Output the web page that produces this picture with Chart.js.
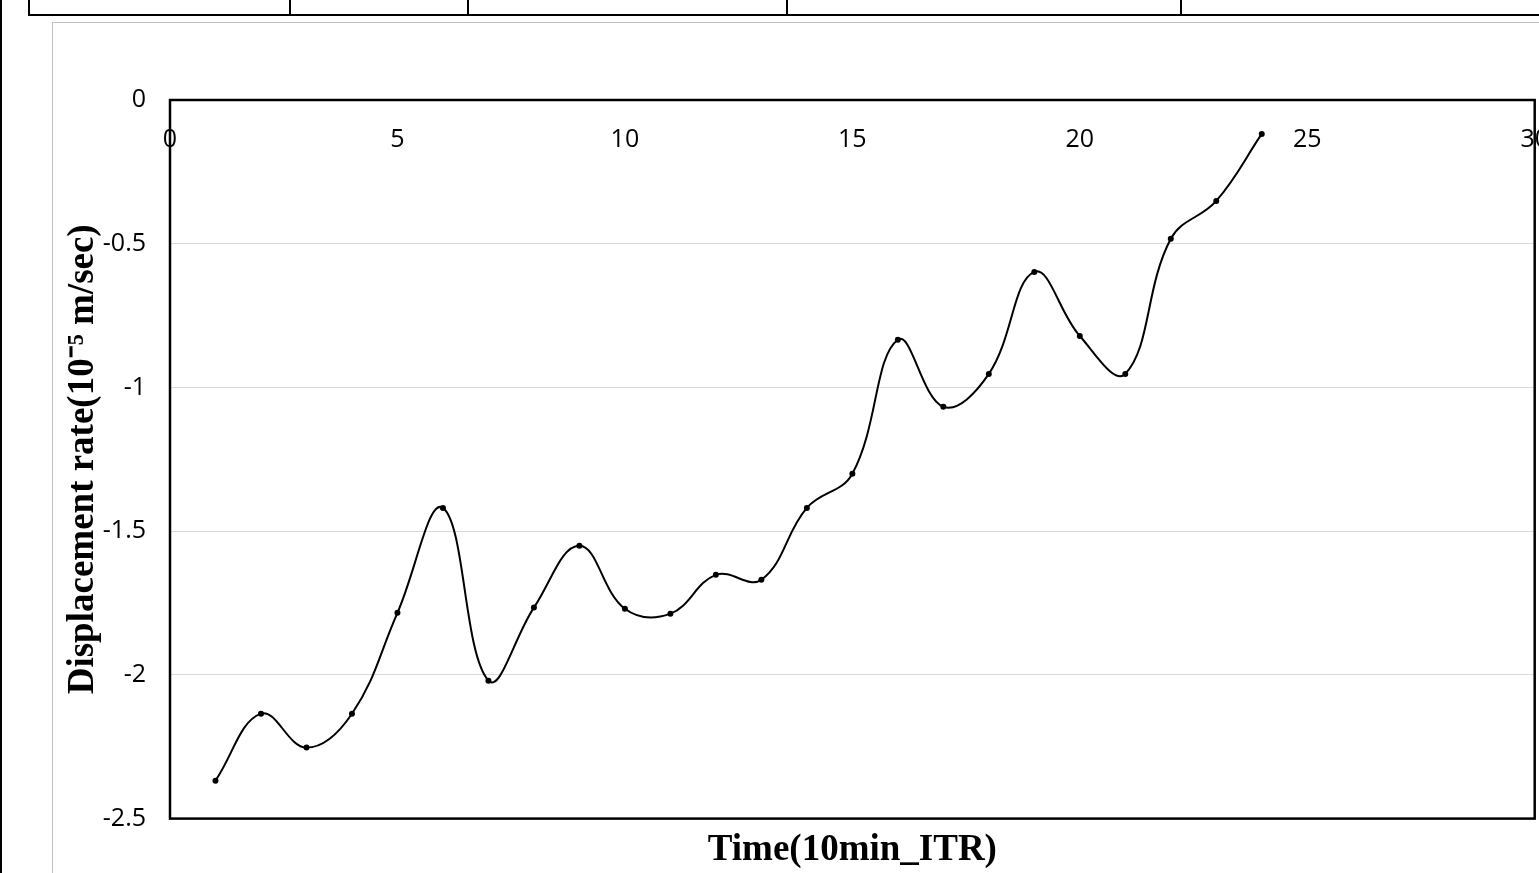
<!DOCTYPE html>
<html>
<head>
<meta charset="utf-8">
<script src="https://cdn.jsdelivr.net/npm/chart.js@4.4.1/dist/chart.umd.min.js"></script>
<style>
  html, body { margin: 0; padding: 0; background: #fff; overflow: hidden; }
  body { width: 1539px; height: 873px; position: relative; }
  .ln { position: absolute; background: #000; }
  #frame { position: absolute; left: 52px; top: 22px; width: 1600px; height: 900px;
           border-left: 1px solid #c0c0c0; border-top: 1px solid #c0c0c0; }
  #wrap { position: absolute; left: 0; top: 0; width: 1574px; height: 873px; }
</style>
</head>
<body>
<!-- table lines around the figure -->
<div class="ln" style="left:0;top:0;width:2px;height:873px"></div>
<div class="ln" style="left:28px;top:14px;width:1520px;height:2px"></div>
<div class="ln" style="left:28px;top:0;width:2px;height:16px"></div>
<div class="ln" style="left:289px;top:0;width:2px;height:16px"></div>
<div class="ln" style="left:467px;top:0;width:2px;height:16px"></div>
<div class="ln" style="left:786px;top:0;width:2px;height:16px"></div>
<div class="ln" style="left:1180px;top:0;width:2px;height:16px"></div>
<div id="frame"></div>
<div id="wrap"><canvas id="chart" width="1574" height="873"></canvas></div>
<script>
// 時間ステップ（10分間隔）
const timeSteps = [1, 2, 3, 4, 5, 6, 7, 8, 9, 10, 11, 12,
  13, 14, 15, 16, 17, 18, 19, 20, 21, 22, 23, 24];
// 変位速度 (10^-5 m/sec)
const displacementRate = [-2.368, -2.135, -2.253, -2.135, -1.784, -1.419,
  -2.020, -1.766, -1.551, -1.770, -1.787, -1.652,
  -1.669, -1.419, -1.300, -0.834, -1.067, -0.953,
  -0.598, -0.821, -0.953, -0.483, -0.351, -0.118];

const xTicks = [0, 5, 10, 15, 20, 25, 30];
const yTicks = [0, -0.5, -1, -1.5, -2, -2.5];
const yTickLabels = ['0', '-0.5', '-1', '-1.5', '-2', '-2.5'];

const points = timeSteps.map((t, i) => ({ x: t, y: displacementRate[i] }));

// プロットエリアの黒枠
const plotFrame = {
  id: 'plotFrame',
  beforeDatasetsDraw(chart) {
    const { ctx, chartArea: a } = chart;
    ctx.save();
    ctx.strokeStyle = '#000';
    ctx.lineWidth = 2.5;
    ctx.strokeRect(a.left, a.top, a.right - a.left, a.bottom - a.top);
    ctx.restore();
  }
};

const tickFont = { family: '"Open Sans", sans-serif', size: 25 };
const titleFont = { family: '"Liberation Serif", "Times New Roman", serif', size: 37, weight: 'bold' };

new Chart(document.getElementById('chart'), {
  type: 'line',
  data: {
    datasets: [{
      data: points,
      borderColor: '#000',
      borderWidth: 2,
      backgroundColor: '#000',
      pointRadius: 3,
      pointBorderWidth: 0,
      tension: 0.4,
      fill: false
    }]
  },
  options: {
    responsive: false,
    animation: false,
    layout: { padding: { left: 50, top: 100, right: 25, bottom: 0 } },
    plugins: {
      legend: { display: false },
      tooltip: { enabled: false },
      title: {
        display: true,
        position: 'bottom',
        fullSize: false,
        text: 'Time(10min_ITR)',
        color: '#000',
        font: titleFont,
        padding: { top: 10, bottom: 0 }
      }
    },
    scales: {
      x: {
        type: 'linear',
        position: { y: 0 },
        min: 0,
        max: 30,
        afterBuildTicks: (s) => { s.ticks = xTicks.map(v => ({ value: v })); },
        ticks: { font: tickFont, color: '#000', padding: 25, maxRotation: 0 },
        grid: { display: false, drawTicks: false },
        border: { display: false }
      },
      y: {
        min: -2.5,
        max: 0,
        afterBuildTicks: (s) => { s.ticks = yTicks.map(v => ({ value: v })); },
        afterFit: (s) => { s.width = 120; },
        ticks: {
          font: tickFont,
          color: '#000',
          padding: 24,
          callback: (v) => yTickLabels[yTicks.indexOf(v)]
        },
        grid: { color: '#d9d9d9', lineWidth: 1, drawTicks: false },
        border: { display: false },
        title: {
          display: true,
          text: 'Displacement rate(10⁻⁵ m/sec)',
          color: '#000',
          font: titleFont,
          padding: { top: 11, bottom: 0 }
        }
      }
    }
  },
  plugins: [plotFrame]
});
</script>
</body>
</html>
